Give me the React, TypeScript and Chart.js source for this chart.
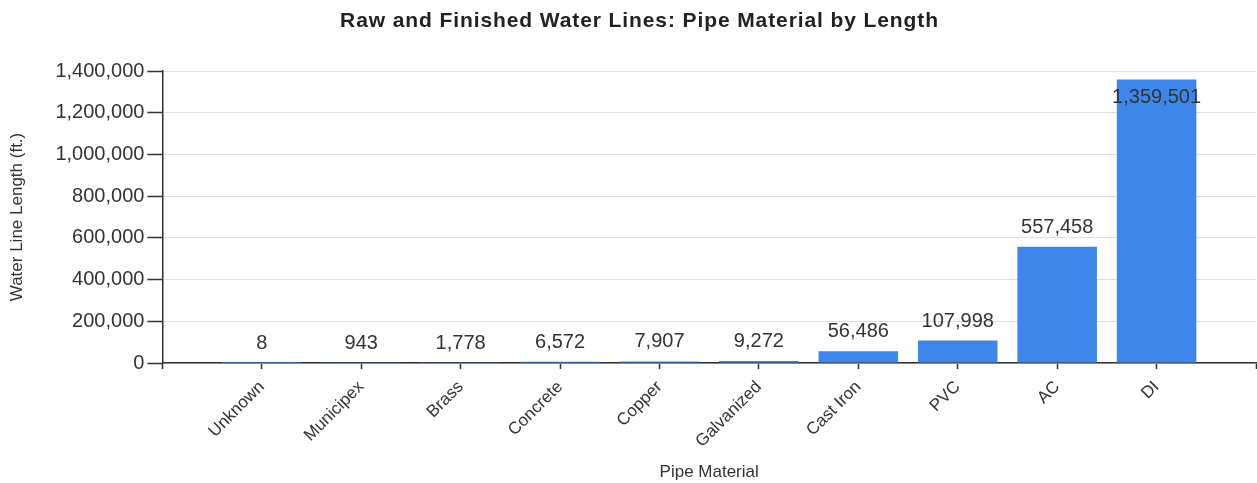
import React, { useEffect, useRef } from "react";
import { Chart, registerables } from "chart.js";

Chart.register(...registerables);

const TITLE = "Raw and Finished Water Lines: Pipe Material by Length";
const X_TITLE = "Pipe Material";
const Y_TITLE = "Water Line Length (ft.)";
const categories = ["Unknown", "Municipex", "Brass", "Concrete", "Copper", "Galvanized", "Cast Iron", "PVC", "AC", "DI"];
const lengths = [8, 943, 1778, 6572, 7907, 9272, 56486, 107998, 557458, 1359501];
const yMin = 0;
const yMax = 1400000;
const yStep = 200000;

const FONT = "'Liberation Sans', Arial, sans-serif";
const BAR_COLOR = "#3e86e9";
const TEXT = "#333333";

const titlePlugin = {
  id: "offsetTitle",
  afterDraw(chart: any) {
    const ctx = chart.ctx;
    ctx.save();
    ctx.font = `bold 21px ${FONT}`;
    try { (ctx as any).letterSpacing = "0.9px"; } catch (e) {}
    ctx.fillStyle = "#222222";
    ctx.textAlign = "center";
    ctx.textBaseline = "middle";
    ctx.fillText(TITLE, chart.width / 2 + 11, 21);
    ctx.restore();
  },
};

const valueLabels = {
  id: "valueLabels",
  afterDatasetsDraw(chart: any) {
    const ctx = chart.ctx;
    const meta = chart.getDatasetMeta(0);
    const data = chart.data.datasets[0].data;
    ctx.save();
    ctx.font = `20px ${FONT}`;
    ctx.fillStyle = TEXT;
    ctx.textAlign = "center";
    ctx.textBaseline = "alphabetic";
    meta.data.forEach((bar: any, i: number) => {
      const v = data[i];
      if (v === null || v === undefined) return;
      const txt = Number(v).toLocaleString("en-US");
      const above = bar.y - 14;
      if (above - 16 < chart.chartArea.top) {
        ctx.fillText(txt, bar.x, bar.y + 24);
      } else {
        ctx.fillText(txt, bar.x, above);
      }
    });
    ctx.restore();
  },
};

export default function App() {
  const ref = useRef<HTMLCanvasElement | null>(null);
  useEffect(() => {
    if (!ref.current) return;
    const labels = ["", ...categories, ""];
    const values = [null, ...lengths, null];
    const chart = new Chart(ref.current, {
      type: "bar",
      data: {
        labels,
        datasets: [
          {
            data: values as any,
            backgroundColor: BAR_COLOR,
            borderWidth: 0,
            barPercentage: 0.8,
            categoryPercentage: 1,
          },
        ],
      },
      options: {
        responsive: false,
        animation: false,
        layout: { padding: { top: 71, right: 1, left: 0, bottom: 0 } },
        plugins: {
          legend: { display: false },
          title: { display: false },
          tooltip: { enabled: false },
        },
        scales: {
          x: {
            offset: false,
            afterFit: (scale: any) => {
              scale.paddingRight = 0;
            },
            grid: { display: true, offset: false, drawOnChartArea: false, tickLength: 6, tickColor: TEXT, tickWidth: 1.5 },
            border: { color: TEXT, width: 1.5 },
            ticks: {
              autoSkip: false,
              maxRotation: 45,
              minRotation: 45,
              padding: 8,
              color: TEXT,
              font: { family: FONT, size: 17 },
            },
            title: {
              display: true,
              text: X_TITLE,
              color: TEXT,
              font: { family: FONT, size: 17 },
              padding: { top: 3, bottom: 0 },
            },
          },
          y: {
            min: yMin,
            max: yMax,
            ticks: {
              stepSize: yStep,
              padding: 3,
              color: TEXT,
              font: { family: FONT, size: 20 },
              callback: (v: any) => Number(v).toLocaleString("en-US"),
            },
            grid: { color: "#dedede", lineWidth: 1, tickLength: 15, tickColor: TEXT, tickWidth: 1.5 },
            border: { color: TEXT, width: 1.5 },
            title: {
              display: true,
              text: Y_TITLE,
              color: TEXT,
              font: { family: FONT, size: 17 },
              padding: { top: 7, bottom: 25 },
            },
          },
        },
      },
      plugins: [titlePlugin, valueLabels],
    });
    return () => chart.destroy();
  }, []);
  return (
    <div style={{ position: "absolute", left: 0, top: 0, width: 1257, height: 483, background: "#fff" }}>
      <canvas ref={ref} width={1257} height={483} style={{ display: "block" }} />
    </div>
  );
}
